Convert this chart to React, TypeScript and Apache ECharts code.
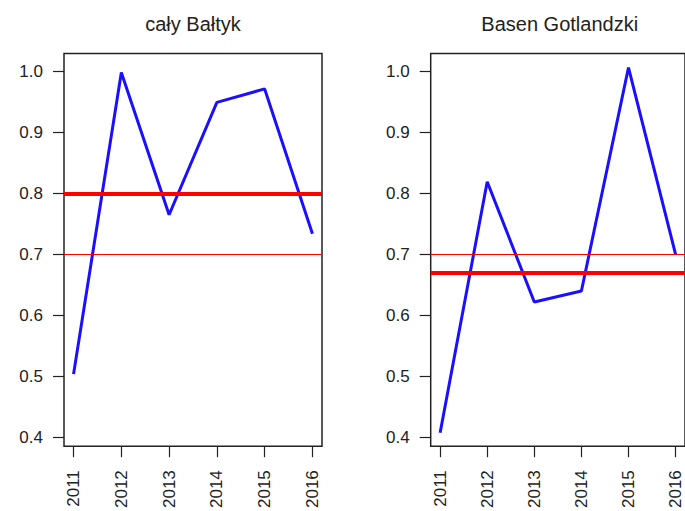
import React, { useEffect, useRef } from "react";
import * as echarts from "echarts";

const years = [2011, 2012, 2013, 2014, 2015, 2016];
const titles = ["cały Bałtyk", "Basen Gotlandzki"];
const seriesBaltyk = [0.504, 0.998, 0.765, 0.949, 0.971, 0.734];
const seriesGotland = [0.408, 0.819, 0.622, 0.64, 1.006, 0.7];
const thickLines = [0.8, 0.674];
const thinLines = [0.7, 0.7];
const yTicks = [0.4, 0.5, 0.6, 0.7, 0.8, 0.9, 1.0];

const FONT = "Liberation Sans, Arial, sans-serif";

export default function App() {
  const ref = useRef<HTMLDivElement>(null);
  useEffect(() => {
    if (!ref.current) return;
    const chart = echarts.init(ref.current, null, { renderer: "svg" });
    const grids = [
      { left: 64, top: 53.5, width: 258, height: 395.5 },
      { left: 430.7, top: 53.5, width: 258, height: 395.5 },
    ];
    const allSeries = [seriesBaltyk, seriesGotland];
    chart.setOption({
      animation: false,
      backgroundColor: "#ffffff",
      textStyle: { fontFamily: FONT },
      grid: grids.map((g) => ({
        ...g,
        show: true,
        borderColor: "#222",
        borderWidth: 1.5,
        backgroundColor: "transparent",
        containLabel: false,
      })),
      graphic: titles.map((t, i) => ({
        type: "text",
        x: grids[i].left + grids[i].width / 2,
        y: 24,
        style: {
          text: t,
          fontSize: 20,
          fontFamily: FONT,
          fill: "#222",
          textAlign: "center",
          textVerticalAlign: "middle",
        },
      })),
      xAxis: grids.map((_, i) => ({
        type: "value",
        gridIndex: i,
        min: 2010.8,
        max: 2016.2,
        splitLine: { show: false },
        axisLine: { show: false },
        axisTick: {
          show: true,
          length: 11,
          customValues: years,
          lineStyle: { color: "#222", width: 1.2 },
        },
        axisLabel: {
          customValues: years,
          rotate: 90,
          margin: 24,
          fontSize: 17,
          color: "#222",
          fontFamily: FONT,
          formatter: (v: number) => String(v),
        },
      })),
      yAxis: grids.map((_, i) => ({
        type: "value",
        gridIndex: i,
        min: 0.386,
        max: 1.029,
        splitLine: { show: false },
        axisLine: { show: false },
        axisTick: {
          show: true,
          length: 11,
          customValues: yTicks,
          lineStyle: { color: "#222", width: 1.2 },
        },
        axisLabel: {
          customValues: yTicks,
          margin: 21,
          fontSize: 17,
          color: "#222",
          fontFamily: FONT,
          formatter: (v: number) => v.toFixed(1),
        },
      })),
      series: allSeries.map((vals, i) => ({
        type: "line",
        xAxisIndex: i,
        yAxisIndex: i,
        data: years.map((y, k) => [y, vals[k]]),
        symbol: "none",
        lineStyle: { color: "#1a10ff", width: 3 },
        markLine: {
          silent: true,
          symbol: "none",
          label: { show: false },
          data: [
            { yAxis: thickLines[i], lineStyle: { color: "#ff0000", width: 4, type: "solid" } },
            { yAxis: thinLines[i], lineStyle: { color: "#ff0000", width: 1, type: "solid" } },
          ],
        },
        z: 3,
      })),
    });
    return () => chart.dispose();
  }, []);
  return (
    <div
      ref={ref}
      style={{ position: "fixed", left: 0, top: 0, width: 685, height: 511 }}
    />
  );
}
